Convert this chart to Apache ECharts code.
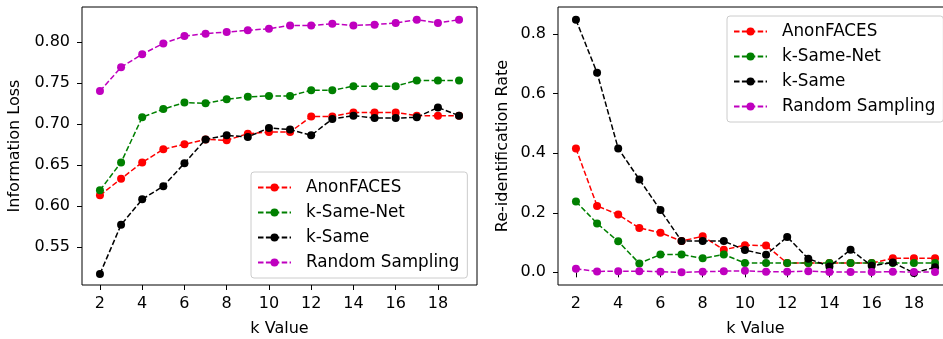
<!DOCTYPE html>
<html>
<head>
<meta charset="utf-8">
<script src="https://cdn.jsdelivr.net/npm/echarts@6/dist/echarts.min.js"></script>
<style>
  body { margin: 0; background: #fff; }
  #main { width: 943px; height: 339px; }
</style>
</head>
<body>
<div id="main"></div>
<script>
// k values on the x axis
var kValues = [2, 3, 4, 5, 6, 7, 8, 9, 10, 11, 12, 13, 14, 15, 16, 17, 18, 19];
var kTicks = [2, 4, 6, 8, 10, 12, 14, 16, 18];

// left panel: information loss
var anonLoss  = [0.613, 0.633, 0.653, 0.669, 0.675, 0.681, 0.680, 0.688, 0.690, 0.690, 0.709, 0.709, 0.714, 0.714, 0.714, 0.710, 0.710, 0.710];
var netLoss   = [0.619, 0.653, 0.708, 0.718, 0.726, 0.725, 0.730, 0.733, 0.734, 0.734, 0.741, 0.741, 0.746, 0.746, 0.746, 0.753, 0.753, 0.753];
var ksameLoss = [0.517, 0.577, 0.608, 0.624, 0.652, 0.681, 0.686, 0.684, 0.695, 0.693, 0.686, 0.706, 0.710, 0.707, 0.707, 0.708, 0.720, 0.710];
var randLoss  = [0.740, 0.769, 0.785, 0.798, 0.807, 0.810, 0.812, 0.814, 0.816, 0.820, 0.820, 0.822, 0.820, 0.821, 0.823, 0.827, 0.823, 0.827];
var lossTicks = [0.55, 0.60, 0.65, 0.70, 0.75, 0.80];

// right panel: re-identification rate
var anonRate  = [0.416, 0.223, 0.194, 0.149, 0.133, 0.105, 0.121, 0.076, 0.091, 0.090, 0.031, 0.031, 0.031, 0.031, 0.031, 0.047, 0.047, 0.047];
var netRate   = [0.238, 0.164, 0.104, 0.030, 0.060, 0.060, 0.047, 0.060, 0.031, 0.031, 0.031, 0.031, 0.031, 0.031, 0.031, 0.031, 0.031, 0.031];
var ksameRate = [0.848, 0.670, 0.416, 0.312, 0.209, 0.105, 0.105, 0.105, 0.075, 0.059, 0.119, 0.046, 0.020, 0.076, 0.022, 0.033, -0.002, 0.017];
var randRate  = [0.012, 0.003, 0.004, 0.004, 0.002, 0.000, 0.002, 0.004, 0.005, 0.002, 0.002, 0.004, 0.001, 0.001, 0.001, 0.002, 0.001, 0.001];
var rateTicks = [0.0, 0.2, 0.4, 0.6, 0.8];

var names = ['AnonFACES', 'k-Same-Net', 'k-Same', 'Random Sampling'];
var colors = ['#ff0000', '#008000', '#000000', '#bf00bf'];

var FONT = 'DejaVu Sans';
var chart = echarts.init(document.getElementById('main'), null, {renderer: 'canvas'});

function pairs(vals) {
    return kValues.map(function (k, i) { return [k, vals[i]]; });
}

function makeSeries(idx, vals, gridIdx) {
    return {
        name: names[idx],
        type: 'line',
        xAxisIndex: gridIdx,
        yAxisIndex: gridIdx,
        data: pairs(vals),
        symbol: 'circle',
        symbolSize: 8,
        showAllSymbol: true,
        animation: false,
        itemStyle: {color: colors[idx]},
        lineStyle: {color: colors[idx], width: 1.5, type: [5.5, 2.4]},
        z: 2 + idx
    };
}

function xAxisFor(gridIdx) {
    return {
        type: 'value',
        gridIndex: gridIdx,
        min: 1.15,
        max: 19.85,
        name: 'k Value',
        nameLocation: 'middle',
        nameGap: 36,
        nameTextStyle: {fontFamily: FONT, fontSize: 16, color: '#000'},
        axisLine: {show: false},
        splitLine: {show: false},
        axisTick: {show: true, length: 5, lineStyle: {color: '#000'}, customValues: kTicks},
        axisLabel: {fontFamily: FONT, fontSize: 16, color: '#000', margin: 11, customValues: kTicks}
    };
}

function yAxisFor(gridIdx, mn, mx, ticks, digits, title, gap) {
    return {
        type: 'value',
        gridIndex: gridIdx,
        min: mn,
        max: mx,
        name: title,
        nameLocation: 'middle',
        nameGap: gap,
        nameTextStyle: {fontFamily: FONT, fontSize: 16, color: '#000'},
        axisLine: {show: false},
        splitLine: {show: false},
        axisTick: {show: true, length: 5, lineStyle: {color: '#000'}, customValues: ticks},
        axisLabel: {
            fontFamily: FONT, fontSize: 16, color: '#000', margin: 12,
            customValues: ticks,
            formatter: function (v) { return v.toFixed(digits); }
        }
    };
}

function legendAt(left, top) {
    return {
        orient: 'vertical',
        left: left,
        top: top,
        padding: [7, 8, 7, 6],
        itemGap: 8,
        itemWidth: 33,
        itemHeight: 10,
        backgroundColor: 'rgba(255,255,255,0.8)',
        borderColor: '#cccccc',
        borderWidth: 1,
        borderRadius: 3,
        data: names,
        selectedMode: false,
        formatter: '{t|{name}}',
        textStyle: {
            fontFamily: FONT, fontSize: 16.8, color: '#000',
            rich: {t: {fontFamily: FONT, fontSize: 16.8, color: '#000', padding: [0, 0, 0, 10]}}
        }
    };
}

var option = {
    backgroundColor: '#fff',
    animation: false,
    grid: [
        {left: 82, top: 7, right: 466, bottom: 54, show: true, borderColor: '#000', borderWidth: 1,
         backgroundColor: 'transparent', outerBoundsMode: 'none'},
        {left: 558, top: 7, right: -10, bottom: 54, show: true, borderColor: '#000', borderWidth: 1,
         backgroundColor: 'transparent', outerBoundsMode: 'none'}
    ],
    xAxis: [xAxisFor(0), xAxisFor(1)],
    yAxis: [
        yAxisFor(0, 0.5035, 0.8425, lossTicks, 2, 'Information Loss', 59),
        yAxisFor(1, -0.0425, 0.891, rateTicks, 1, 'Re-identification Rate', 47)
    ],
    legend: [legendAt(251, 172), legendAt(727, 16)],
    series: [
        makeSeries(0, anonLoss, 0),
        makeSeries(1, netLoss, 0),
        makeSeries(2, ksameLoss, 0),
        makeSeries(3, randLoss, 0),
        makeSeries(0, anonRate, 1),
        makeSeries(1, netRate, 1),
        makeSeries(2, ksameRate, 1),
        makeSeries(3, randRate, 1)
    ]
};

option && chart.setOption(option);
</script>
</body>
</html>
